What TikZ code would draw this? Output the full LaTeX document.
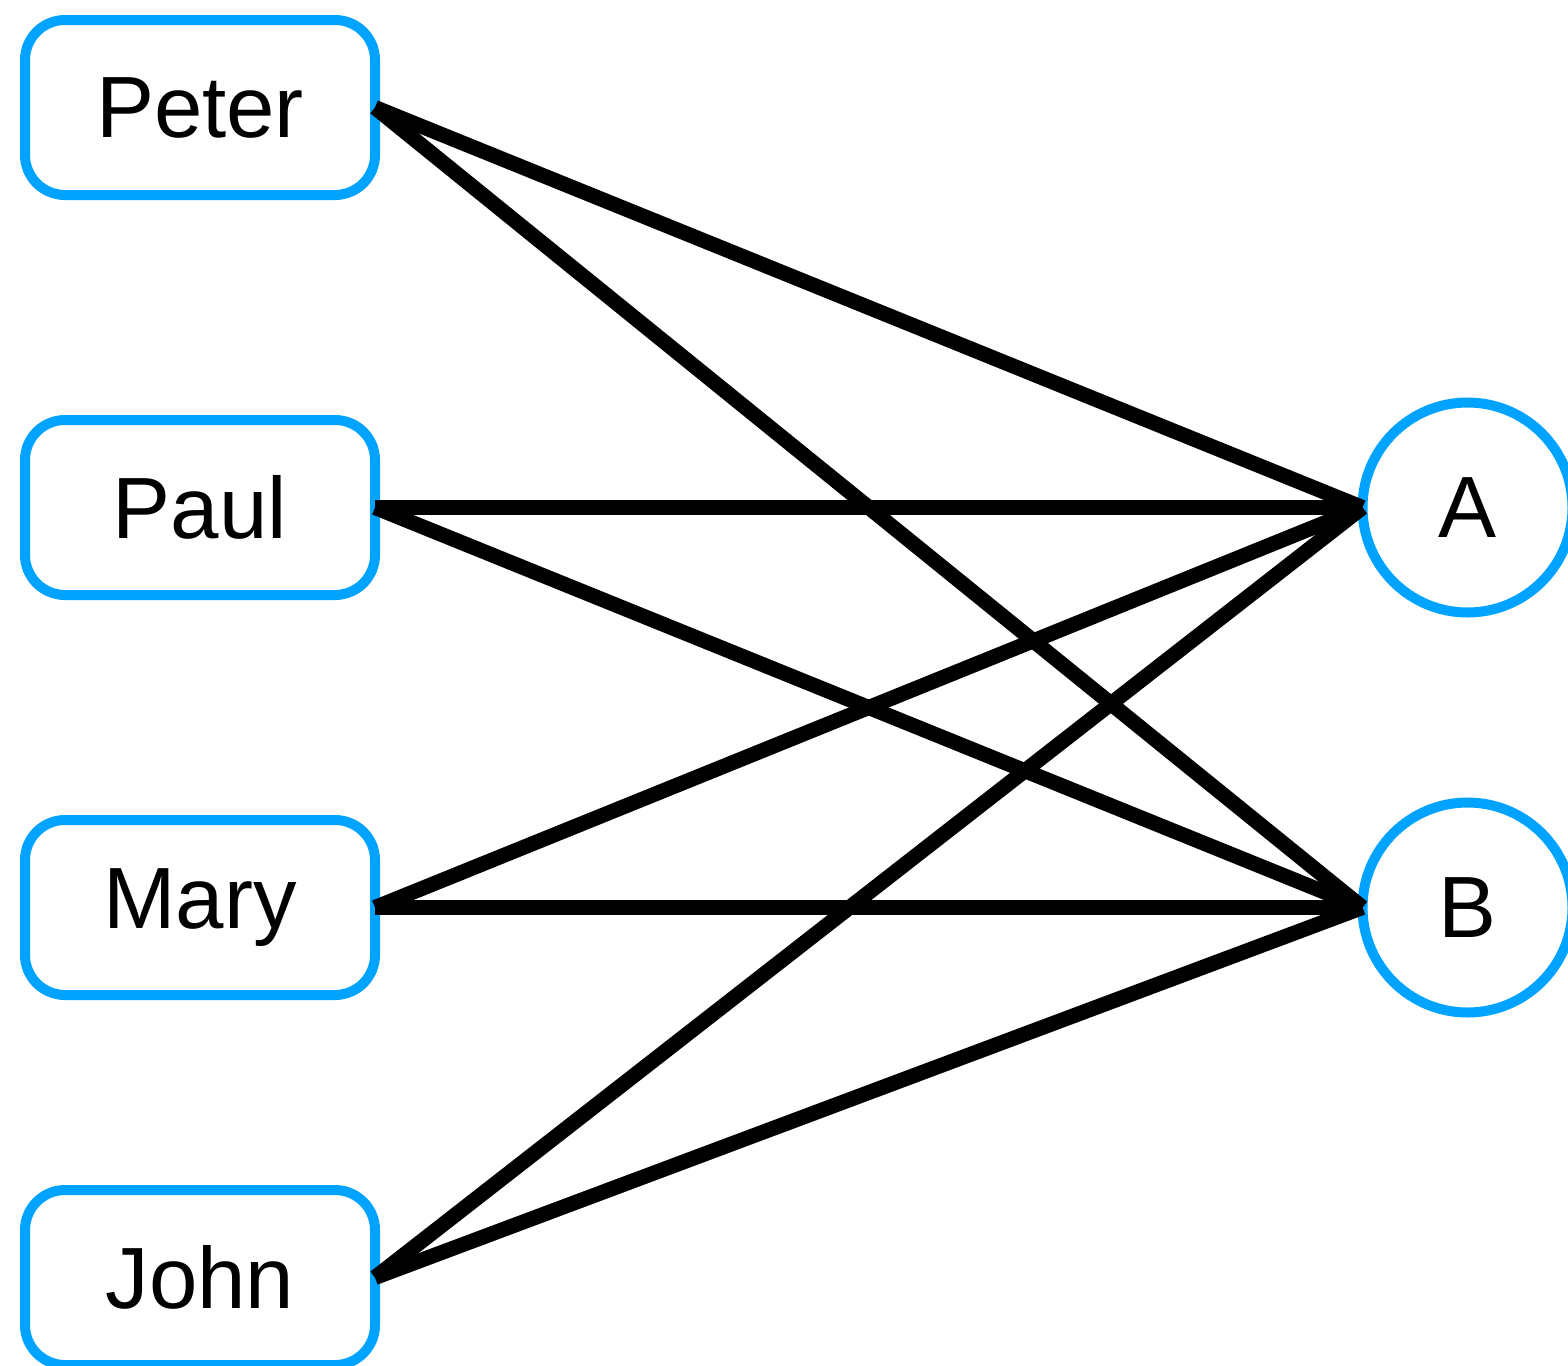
\documentclass[tikz,border=0pt]{standalone}
\usepackage{fontspec}
\setmainfont{Liberation Sans}
\usepackage{xcolor}
\usetikzlibrary{shapes}
\definecolor{boxblue}{RGB}{0,163,255}

\begin{document}
\begin{tikzpicture}[x=0.5pt, y=-0.5pt, node distance=200pt, outer sep=0pt,
  person/.style={draw=boxblue, line width=5pt, rectangle, rounded corners=20pt,
    minimum width=175pt, minimum height=87.5pt, font=\fontsize{43.5}{50}\selectfont},
  group/.style={draw=boxblue, line width=5pt, circle, minimum size=105pt,
    inner sep=0pt, font=\fontsize{43.5}{50}\selectfont}]
\useasboundingbox (0,0) rectangle (1568,1365);

\node [person] (peter) at (200,107.5) {Peter};
\node [person] (paul) [below of=peter] {Paul};
\node [person] (mary) [below of=paul] {Mary};
\node [person] (john) [below of=mary, node distance=185pt] {John};
\node [group] (ga) at (1467.5,507.5) {A};
\node [group] (gb) [below of=ga] {B};

\path [-, line width=7.5pt, black]
(peter.east) edge (ga.west)
(peter.east) edge (gb.west)
(paul.east) edge (ga.west)
(paul.east) edge (gb.west)
(mary.east) edge (ga.west)
(mary.east) edge (gb.west)
(john.east) edge (ga.west)
(john.east) edge (gb.west);

\end{tikzpicture}
\end{document}
